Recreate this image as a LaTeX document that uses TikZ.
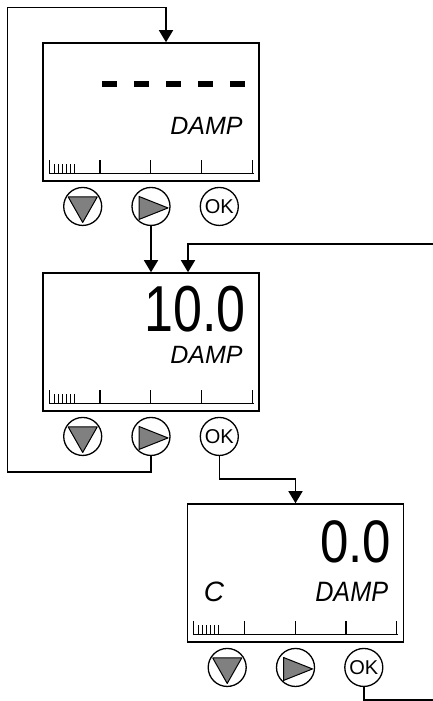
\documentclass[tikz,border=0pt]{standalone}
\usepackage{fontspec}
\setmainfont{Liberation Sans}
\usepackage{graphicx}
\usetikzlibrary{positioning,calc,arrows.meta}
\definecolor{btngray}{RGB}{128,128,128}

\begin{document}
\begin{tikzpicture}[
    x=1pt, y=-1pt,
    panel/.style={rectangle, draw, line width=1.6pt, minimum width=216pt, minimum height=138pt, inner sep=0pt},
    btn/.style={circle, draw, line width=1.3pt, minimum size=38pt, inner sep=0pt, font=\fontsize{20}{20}\selectfont},
    arr/.style={line width=1.5pt, -{Triangle[length=12pt,width=14pt]}},
    lbl/.style={inner sep=0pt, anchor=base east, font=\fontsize{25}{25}\selectfont\itshape},
    big/.style={inner sep=0pt, anchor=base east, font=\fontsize{65}{65}\selectfont},
    tri/.style={fill=btngray, draw, line width=1pt, line join=round}
]
    \useasboundingbox (0,0) rectangle (433,701);

    % Displays
    \node[panel] (p1) at (151,112) {};
    \node[panel] (p2) at (151,342) {};
    \node[panel] (p3) at (295.5,573) {};

    % Scale bars and keys
    \foreach \p in {p1,p2,p3} {
        \draw[line width=1.3pt] ($(\p.south west)+(7,-8)$) -- ($(\p.south east)+(-6,-8)$);
        \foreach \i in {0,...,4}
            \draw[line width=1.3pt] ($(\p.south west)+(7+50.75*\i,-8)$) -- ++(0,-14);
        \foreach \i in {1,...,6}
            \draw[line width=1pt] ($(\p.south west)+(8+4*\i,-8)$) -- ++(0,-10);
        \node[btn, below=5pt of \p.south] (\p-play) {};
        \node[btn, left=29pt of \p-play] (\p-down) {};
        \node[btn, right=29pt of \p-play] (\p-ok) {OK};
        \draw[tri] ($(\p-down)+(-14.5,-9.5)$) -- ($(\p-down)+(14.5,-9.5)$) -- ($(\p-down)+(0,16)$) -- cycle;
        \draw[tri] ($(\p-play)+(-12,-10)$) -- ($(\p-play)+(-12,13)$) -- ($(\p-play)+(17,1.5)$) -- cycle;
    }

    % Display contents
    \coordinate (dashL) at ($(p1.north west)+(60,42)$);
    \coordinate (dashR) at ($(p1.north east)+(-13,42)$);
    \draw[line width=6pt, dash pattern=on 15pt off 17pt] (dashL) -- (dashR);
    \node[lbl] (p1-tag) at ($(p1.north east)+(-17,92)$) {DAMP};

    \node[big] (p2-val) at ($(p2.north east)+(-14,59)$) {\scalebox{0.8}[1]{10.0}};
    \node[lbl] (p2-tag) at ($(p2.north east)+(-17,91)$) {DAMP};

    \node[big, font=\fontsize{60}{60}\selectfont] (p3-val) at ($(p3.north east)+(-13,59)$) {\scalebox{0.85}[1]{0.0}};
    \node[lbl, font=\fontsize{28}{28}\selectfont\itshape] (p3-tag) at ($(p3.north east)+(-16,98)$) {\scalebox{0.9}[1]{DAMP}};
    \node[lbl, anchor=base west, font=\fontsize{28}{28}\selectfont\itshape] (p3-unit) at ($(p3.north west)+(17,98)$) {C};

    % Connections
    \coordinate (loopL) at (7.5,472);
    \coordinate (loopT) at (166,7.5);
    \coordinate (inR) at (433,244);
    \coordinate (outR) at (433,700);
    \draw[arr] (p2-play.south) |- (loopL) |- (loopT) -- (loopT |- p1.north);
    \draw[arr] (p1-play.south) -- (p1-play.south |- p2.north);
    \draw[arr] (inR) -| ([xshift=37pt]p2.north);
    \draw[arr] (p2-ok.south) -- ++(0,23) -| (p3.north);
    \draw[line width=1.5pt] (p3-ok.south) |- (outR);
\end{tikzpicture}
\end{document}
